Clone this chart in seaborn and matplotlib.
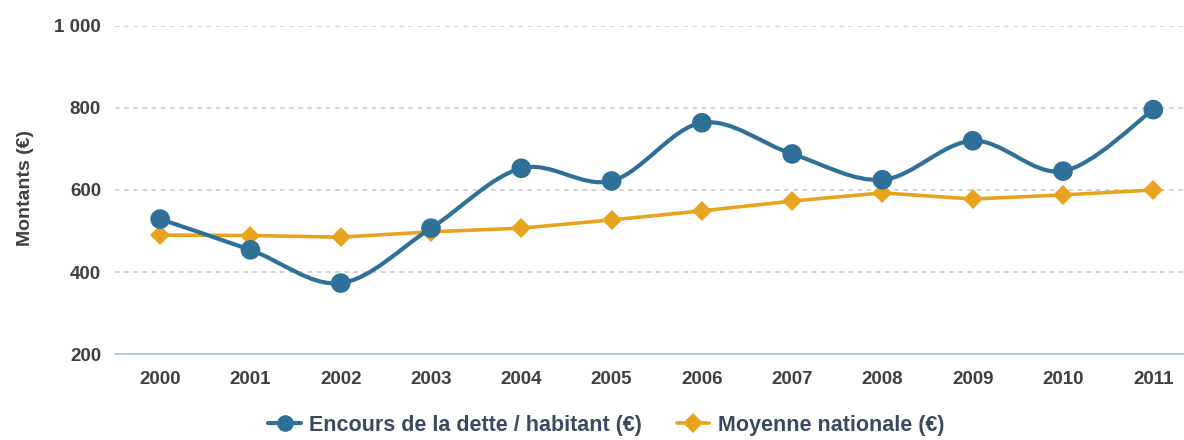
import numpy as np
import pandas as pd
import matplotlib
matplotlib.use("Agg")
import matplotlib.pyplot as plt
import seaborn as sns
from matplotlib.path import Path
from matplotlib.patches import PathPatch
from matplotlib.lines import Line2D
from matplotlib.ticker import FuncFormatter

# ===============================
# DATA
# ===============================
years = ['2000', '2001', '2002', '2003', '2004', '2005',
         '2006', '2007', '2008', '2009', '2010', '2011']
dette_habitant = [529, 454, 373, 507, 653, 622, 764, 688, 625, 720, 646, 796]
moyenne_nationale = [490, 489, 485, 498, 507, 527, 549, 573, 593, 578, 588, 600]
y_ticks = [200, 400, 600, 800, 1000]

BLUE = '#2f7098'
ORANGE = '#e8a41e'
TXT = '#3f3f3f'

df = pd.DataFrame({'annee': years, 'dette': dette_habitant, 'moyenne': moyenne_nationale})
df['pos'] = np.arange(len(years))

sns.set_style("white")
plt.rcParams['font.family'] = ['Liberation Sans', 'DejaVu Sans']

fig = plt.figure(figsize=(11.84, 4.4), dpi=100)
ax = fig.add_axes([115 / 1184, 1 - 354 / 440, 1 - 115 / 1184, (354 - 26) / 440])

# moyenne nationale: straight segments with diamonds
sns.lineplot(data=df, x='pos', y='moyenne', ax=ax, color=ORANGE, lw=2.6,
             marker='D', markersize=10, markeredgewidth=0, zorder=3)

# encours: smoothed curve (Catmull-Rom -> bezier) through the data points
pts = df[['pos', 'dette']].to_numpy(dtype=float)
verts = [pts[0]]
codes = [Path.MOVETO]
for i in range(len(pts) - 1):
    p0 = pts[max(i - 1, 0)]
    p1 = pts[i]
    p2 = pts[i + 1]
    p3 = pts[min(i + 2, len(pts) - 1)]
    c1 = p1 + (p2 - p0) / 6.0
    c2 = p2 - (p3 - p1) / 6.0
    verts += [c1, c2, p2]
    codes += [Path.CURVE4] * 3
ax.add_patch(PathPatch(Path(verts, codes), fill=False, edgecolor=BLUE, lw=3.0, zorder=4))
sns.scatterplot(data=df, x='pos', y='dette', ax=ax, color=BLUE, s=200,
                marker='o', edgecolor='none', zorder=5)

# axes
ax.set_xlim(-0.5, 11.34)
ax.set_ylim(200, 1000)
ax.set_xticks(df['pos'])
ax.set_xticklabels(years)
ax.set_yticks(y_ticks)
ax.yaxis.set_major_formatter(FuncFormatter(lambda v, _: f"{int(v):,}".replace(',', ' ')))
ax.tick_params(axis='both', length=0, labelsize=13.5, labelcolor=TXT)
ax.tick_params(axis='x', pad=12)
ax.tick_params(axis='y', pad=10)
for lab in ax.get_xticklabels() + ax.get_yticklabels():
    lab.set_fontweight('bold')

ax.grid(axis='y', color='#c8c8c8', linestyle=(0, (3, 3)), lw=1.1)
ax.grid(axis='x', visible=False)
for s in ['top', 'right', 'left']:
    ax.spines[s].set_visible(False)
ax.spines['bottom'].set_color('#a9bfd4')
ax.spines['bottom'].set_linewidth(1.2)
ax.set_xlabel('')
ax.set_ylabel('')
fig.text(25 / 1184, 1 - 188 / 440, 'Montants (€)', rotation=90, ha='center', va='center',
         fontsize=14, fontweight='bold', color=TXT)

# legend
handles = [
    Line2D([0], [0], color=BLUE, lw=3, marker='o', markersize=12, markeredgewidth=0),
    Line2D([0], [0], color=ORANGE, lw=2.6, marker='D', markersize=10, markeredgewidth=0),
]
leg = fig.legend(handles, ['Encours de la dette / habitant (€)', 'Moyenne nationale (€)'],
                 loc='center', bbox_to_anchor=(0.512, 0.034), ncol=2, frameon=False,
                 handlelength=1.5, columnspacing=1.6, handletextpad=0.4,
                 prop={'size': 15.5, 'weight': 'bold'})
for t in leg.get_texts():
    t.set_color('#3a4a60')

fig.savefig('out.png', dpi=100)
